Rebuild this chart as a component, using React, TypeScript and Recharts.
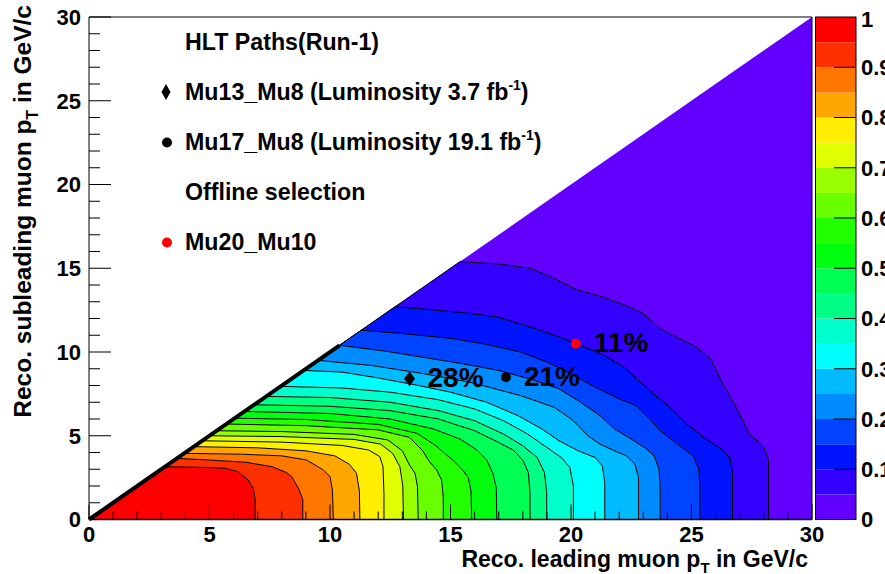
import React from "react";
import {
  ComposedChart,
  BarChart,
  Bar,
  Area,
  XAxis,
  YAxis,
  ReferenceLine,
  ReferenceDot
} from "recharts";

const FONT = "'Liberation Sans', Arial, Helvetica, sans-serif";

// contour levels of the trigger efficiency
const LEVELS = [0.05, 0.1, 0.15, 0.2, 0.25, 0.3, 0.35, 0.4, 0.45, 0.5, 0.55, 0.6, 0.65, 0.7, 0.75, 0.8, 0.85, 0.9, 0.95];

// band colours, [0,0.05] first, [0.95,1] last
const BAND_COLORS = [
  "#6200ff", "#3300ff", "#0014ff", "#0044ff", "#008bff",
  "#00bbff", "#00fffc", "#00ffcc", "#00ff85", "#00ff55",
  "#00ff0e", "#22ff00", "#69ff00", "#99ff00", "#e0ff00",
  "#ffee00", "#ffa700", "#ff7700", "#ff3000", "#ff0000"
];

// contour lines as [leading pT, subleading pT], from the diagonal down to the x axis
const C05 = [[15.4,15.4],[17,15.25],[18.3,15.0],[19.3,14.4],[20.2,13.75],[21.5,13.2],[22.4,12.7],[23.0,12.3],[23.7,11.4],[24.5,10.8],[25.2,10.3],[25.8,9.6],[26.3,8.1],[26.7,7.1],[27.0,6.3],[27.4,5.1],[28.0,4.35],[28.2,3.55],[28.2,0]];
const C10 = [[12.7,12.7],[14,12.55],[15.5,12.35],[16.9,12.1],[18.3,11.5],[19.5,10.9],[20.2,10.5],[21.3,9.85],[22.2,9.1],[22.8,8.3],[23.5,7.4],[24.1,6.7],[24.8,5.7],[25.6,4.8],[26.3,4.15],[26.6,3.65],[26.7,2.8],[26.7,0]];
const C15 = [[11.3,11.3],[13,11.1],[15.1,10.8],[16.5,10.45],[17.9,10.0],[19.0,9.4],[20.0,8.7],[21.0,7.9],[22.0,7.2],[22.7,6.8],[23.2,6.1],[23.7,5.3],[24.2,4.75],[24.7,4.2],[25.07,3.8],[25.3,3.0],[25.35,2.0],[25.35,0]];
const C20 = [[10.4,10.4],[12.3,10.05],[14,9.65],[15.5,9.3],[17,8.9],[18.5,8.3],[19.5,7.8],[20.4,7.0],[21.2,6.2],[21.8,5.4],[22.5,4.8],[23.1,4.25],[23.45,3.8],[23.65,3.0],[23.7,2.0],[23.7,0]];
const C25 = [[9.5,9.5],[11.7,9.2],[13.7,8.75],[15.8,8.2],[17.9,7.4],[19.3,6.7],[20.1,5.9],[20.7,5.0],[21.2,4.5],[21.8,4.1],[22.3,3.8],[22.65,3.3],[22.8,2.5],[22.8,0]];
const C30 = [[8.9,8.9],[10.5,8.8],[12,8.45],[13.5,8.05],[15,7.6],[16.5,7.0],[17.8,6.2],[18.8,5.4],[19.5,4.7],[20.3,4.1],[21.0,3.7],[21.3,3.2],[21.4,2.2],[21.4,0]];
const C35 = [[7.95,7.95],[10.5,7.85],[12.5,7.6],[14.5,7.15],[16,6.6],[17.2,5.9],[18.2,5.1],[19.0,4.3],[19.6,3.7],[19.95,3.1],[20.1,2.0],[20.1,0]];
const C40 = [[7.35,7.35],[10,7.28],[12.5,7.0],[14.5,6.5],[16,5.9],[17.2,5.1],[18.0,4.4],[18.6,3.7],[18.9,2.8],[18.99,1.6],[18.99,0]];
const C45 = [[6.85,6.85],[10,6.76],[12.5,6.5],[14.5,6.0],[16,5.3],[17.0,4.6],[17.6,4.15],[18.0,3.55],[18.23,2.8],[18.3,1.6],[18.3,0]];
const C50 = [[6.45,6.45],[10,6.33],[12.5,6.0],[14.3,5.4],[15.4,4.8],[16.1,4.15],[16.5,3.55],[16.75,2.8],[16.9,1.9],[16.92,0]];
const C55 = [[6.05,6.05],[9,5.97],[12,5.68],[13.6,5.15],[14.4,4.4],[14.75,3.95],[15.1,3.55],[15.5,2.96],[15.74,2.5],[15.85,1.7],[15.88,0]];
const C60 = [[5.7,5.7],[9,5.6],[12,5.35],[13.3,4.9],[13.85,4.1],[14.1,3.5],[14.42,2.96],[14.63,2.36],[14.7,1.3],[14.7,0]];
const C65 = [[5.3,5.3],[8,5.25],[11,5.08],[12.4,4.75],[13.0,4.1],[13.3,3.25],[13.53,2.76],[13.63,1.96],[13.66,0]];
const C70 = [[5.0,5.0],[8,4.95],[11,4.78],[12.1,4.5],[12.6,3.95],[12.9,3.15],[13.02,2.0],[13.05,0]];
const C75 = [[4.7,4.7],[8,4.62],[10.5,4.42],[11.6,4.15],[12.07,3.75],[12.2,3.15],[12.24,1.5],[12.24,0]];
const C80 = [[4.35,4.35],[7,4.28],[9,4.1],[10.2,3.8],[10.8,3.3],[11.1,2.76],[11.22,1.7],[11.24,0]];
const C85 = [[3.95,3.95],[6.3,3.9],[8,3.8],[9.03,3.55],[9.5,3.15],[9.72,2.96],[10.0,2.56],[10.1,1.76],[10.14,0]];
const C90 = [[3.65,3.65],[5,3.55],[6.5,3.42],[7.6,3.15],[8.2,2.8],[8.41,2.56],[8.69,1.86],[8.87,1.2],[8.87,0]];
const C95 = [[3.15,3.15],[4.5,3.12],[5.64,3.06],[6.2,2.85],[6.61,2.36],[6.82,1.86],[6.89,1.2],[6.89,0]];

const CONTOURS = [C05, C10, C15, C20, C25, C30, C35, C40, C45, C50, C55, C60, C65, C70, C75, C80, C85, C90, C95];

// phase space edge: subleading pT <= leading pT
const DIAGONAL = [[0, 0], [30, 30]];

const AXIS_TICKS = [0,1,2,3,4,5,6,7,8,9,10,11,12,13,14,15,16,17,18,19,20,21,22,23,24,25,26,27,28,29,30];
const Z_TICKS = [0, 0.1, 0.2, 0.3, 0.4, 0.5, 0.6, 0.7, 0.8, 0.9, 1];

// trigger thresholds and their efficiency
const TRIGGERS = [
  { x: 13.3, y: 8.4, eff: "28%", shape: "diamond", color: "#000000" },
  { x: 17.3, y: 8.5, eff: "21%", shape: "circle", color: "#000000" },
  { x: 20.2, y: 10.5, eff: "11%", shape: "circle", color: "#ff0000" }
];

const LEGEND = [
  { text: "HLT Paths(Run-1)", sup: "", marker: "", color: "" },
  { text: "Mu13_Mu8 (Luminosity 3.7 fb", sup: "-1", marker: "diamond", color: "#000000" },
  { text: "Mu17_Mu8 (Luminosity 19.1 fb", sup: "-1", marker: "circle", color: "#000000" },
  { text: "Offline selection", sup: "", marker: "", color: "" },
  { text: "Mu20_Mu10", sup: "", marker: "circle", color: "#ff0000" }
];

const tickText = { fontFamily: FONT, fontWeight: 700, fontSize: 22, fill: "#000" };

function BottomTick(p: any) {
  const v = p.payload.value;
  const major = v % 5 === 0;
  return (
    <g>
      <line x1={p.x} y1={p.y} x2={p.x} y2={p.y - (major ? 15 : 8)} stroke="#000" />
      {major && (
        <text x={p.x} y={p.y + 22} textAnchor="middle" {...tickText}>{v}</text>
      )}
    </g>
  );
}

function TopTick(p: any) {
  const major = p.payload.value % 5 === 0;
  return <line x1={p.x} y1={p.y} x2={p.x} y2={p.y + (major ? 15 : 8)} stroke="#000" />;
}

function LeftTick(p: any) {
  const v = p.payload.value;
  const major = v % 5 === 0;
  return (
    <g>
      <line x1={p.x} y1={p.y} x2={p.x + (major ? 22 : 11)} y2={p.y} stroke="#000" />
      {major && (
        <text x={p.x - 8} y={p.y + 7.8} textAnchor="end" {...tickText}>{v}</text>
      )}
    </g>
  );
}

function RightTick(p: any) {
  const major = p.payload.value % 5 === 0;
  return <line x1={p.x} y1={p.y} x2={p.x - (major ? 22 : 11)} y2={p.y} stroke="#000" />;
}

function ZTick(p: any) {
  const v = p.payload.value;
  return (
    <g>
      {v > 0 && v < 1 && <line x1={p.x} y1={p.y} x2={p.x - 22} y2={p.y} stroke="#000" />}
      <text x={p.x + 5} y={p.y + (v === 1 ? 10 : 7.8)} textAnchor="start" {...tickText}>{String(v)}</text>
    </g>
  );
}

function Marker(props: any, t: any) {
  const { cx, cy } = props;
  return (
    <g>
      {t.shape === "diamond" ? (
        <polygon points={`${cx},${cy - 7.5} ${cx + 5.5},${cy} ${cx},${cy + 7.5} ${cx - 5.5},${cy}`} fill={t.color} />
      ) : (
        <circle cx={cx} cy={cy} r={5} fill={t.color} />
      )}
      <text x={cx + 18} y={cy + 8.5} fontFamily={FONT} fontWeight={700} fontSize={28} fill="#000">{t.eff}</text>
    </g>
  );
}

export default function App() {
  const [x0, y0] = DIAGONAL[0];
  const base = DIAGONAL.map(([x, y]) => ({ x, y }));
  // each filled region runs along the diagonal from the origin, then follows its contour
  const contours = CONTOURS.map((c) => [{ x: x0, y: y0 }, ...c.map(([x, y]) => ({ x, y }))]);

  // one stacked column for the colour scale: band widths from the level list
  const zRow: Record<string, number | string> = { name: "z" };
  BAND_COLORS.forEach((_, i) => {
    const lo = i === 0 ? 0 : LEVELS[i - 1];
    const hi = i === LEVELS.length ? 1 : LEVELS[i];
    zRow[`b${i}`] = hi - lo;
  });

  return (
    <div style={{ position: "absolute", left: 0, top: 0, width: 885, height: 574, overflow: "hidden", background: "#fff" }}>
      <div style={{ position: "absolute", left: 0, top: 0 }}>
        <ComposedChart width={885} height={574} margin={{ top: 16, right: 72, bottom: 14.5, left: 29 }}>
          <Area
            xAxisId="b"
            yAxisId="l"
            data={base}
            dataKey="y"
            type="linear"
            fill={BAND_COLORS[0]}
            fillOpacity={1}
            stroke="none"
            dot={false}
            activeDot={false}
            isAnimationActive={false}
          />
          {contours.map((d, i) => (
            <Area
              key={LEVELS[i]}
              xAxisId="b"
              yAxisId="l"
              data={d}
              dataKey="y"
              type="linear"
              fill={BAND_COLORS[i + 1]}
              fillOpacity={1}
              stroke="#000"
              strokeWidth={1}
              dot={false}
              activeDot={false}
              isAnimationActive={false}
            />
          ))}
          <ReferenceLine
            xAxisId="b"
            yAxisId="l"
            segment={[{ x: x0, y: y0 }, { x: C20[0][0], y: C20[0][1] }]}
            stroke="#000"
            strokeWidth={4}
          />
          {TRIGGERS.map((t) => (
            <ReferenceDot
              key={t.eff}
              xAxisId="b"
              yAxisId="l"
              x={t.x}
              y={t.y}
              r={5}
              shape={(p: any) => Marker(p, t)}
            />
          ))}
          <XAxis
            xAxisId="b"
            type="number"
            dataKey="x"
            domain={[0, 30]}
            ticks={AXIS_TICKS}
            interval={0}
            tickSize={0}
            tickMargin={0}
            tickLine={false}
            tick={BottomTick}
            axisLine={{ stroke: "#000", strokeWidth: 1.5 }}
            height={40}
            allowDataOverflow
          />
          <XAxis
            xAxisId="t"
            orientation="top"
            type="number"
            dataKey="x"
            domain={[0, 30]}
            ticks={AXIS_TICKS}
            interval={0}
            tickSize={0}
            tickMargin={0}
            tickLine={false}
            tick={TopTick}
            axisLine={{ stroke: "#000" }}
            height={1}
          />
          <YAxis
            yAxisId="l"
            type="number"
            domain={[0, 30]}
            ticks={AXIS_TICKS}
            interval={0}
            tickSize={0}
            tickMargin={0}
            tickLine={false}
            tick={LeftTick}
            axisLine={{ stroke: "#000" }}
            width={60}
            allowDataOverflow
          />
          <YAxis
            yAxisId="r"
            orientation="right"
            type="number"
            domain={[0, 30]}
            ticks={AXIS_TICKS}
            interval={0}
            tickSize={0}
            tickMargin={0}
            tickLine={false}
            tick={RightTick}
            axisLine={{ stroke: "#000" }}
            width={1}
          />
        </ComposedChart>
      </div>

      {/* colour scale */}
      <div style={{ position: "absolute", left: 815, top: 0 }}>
        <BarChart
          width={70}
          height={574}
          data={[zRow]}
          margin={{ top: 17, right: 28, bottom: 54.5, left: 0 }}
          barCategoryGap={0}
          barGap={0}
        >
          <XAxis dataKey="name" hide />
          {BAND_COLORS.map((c, i) => (
            <Bar key={c} dataKey={`b${i}`} stackId="z" fill={c} isAnimationActive={false} />
          ))}
          <YAxis
            orientation="right"
            type="number"
            domain={[0, 1]}
            ticks={Z_TICKS}
            interval={0}
            tickSize={0}
            tickMargin={0}
            tickLine={false}
            tick={ZTick}
            axisLine={false}
            width={1}
            allowDataOverflow
          />
        </BarChart>
      </div>

      {/* titles, legend and the colour scale frame */}
      <svg
        width={885}
        height={574}
        style={{ position: "absolute", left: 0, top: 0, pointerEvents: "none" }}
        fontFamily={FONT}
        fontWeight={700}
      >
        <rect x={815.5} y={17} width={40.5} height={502.5} fill="none" stroke="#000" strokeWidth={1} />
        <text x={808} y={566.5} fontSize={23} textAnchor="end">
          Reco. leading muon p<tspan fontSize={15} dy={6}>T</tspan>
          <tspan dy={-6}> in GeV/c</tspan>
        </text>
        <text transform="translate(31,5) rotate(-90)" fontSize={24.5} textAnchor="end">
          Reco. subleading muon p<tspan fontSize={16} dy={7}>T</tspan>
          <tspan dy={-7}> in GeV/c</tspan>
        </text>
        {LEGEND.map((e, i) => {
          const y = 50 + i * 50;
          return (
            <g key={e.text}>
              {e.marker === "diamond" && (
                <polygon points={`166,${y - 16} 170.5,${y - 8} 166,${y} 161.5,${y - 8}`} fill={e.color} />
              )}
              {e.marker === "circle" && <circle cx={167} cy={y - 7.5} r={5} fill={e.color} />}
              <text x={185} y={y} fontSize={23.2}>
                {e.text}
                {e.sup && (
                  <>
                    <tspan fontSize={14} dy={-10}>{e.sup}</tspan>
                    <tspan dy={10}>)</tspan>
                  </>
                )}
              </text>
            </g>
          );
        })}
      </svg>
    </div>
  );
}
